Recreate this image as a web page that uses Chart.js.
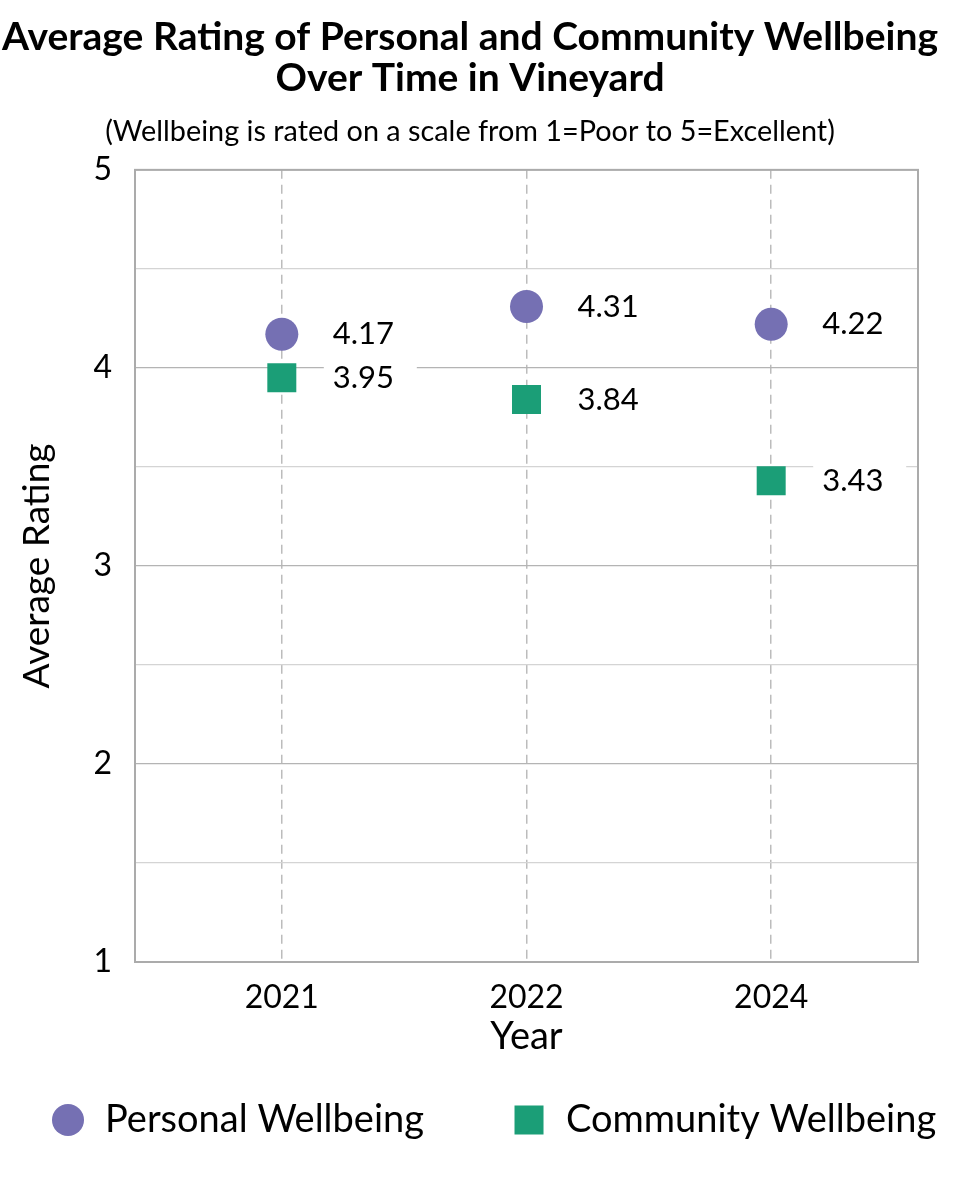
<!DOCTYPE html>
<html>
<head>
<meta charset="utf-8">
<title>Wellbeing in Vineyard</title>
<script src="https://cdn.jsdelivr.net/npm/chart.js@4/dist/chart.umd.min.js"></script>
<style>
    html, body { margin: 0; padding: 0; background: #fff; }
    #wrap { width: 960px; height: 1200px; }
</style>
</head>
<body>
<div id="wrap"><canvas id="wellbeingChart" width="960" height="1200"></canvas></div>
<script>
// data
const years = ['2021', '2022', '2024'];
const personalWellbeing = [4.17, 4.31, 4.22];
const communityWellbeing = [3.95, 3.84, 3.43];
const yMajorTicks = [1, 2, 3, 4, 5];
const yMinorTicks = [1.5, 2.5, 3.5, 4.5];

const purple = '#7570b3';
const green = '#1b9e77';
const FONT = 'Lato, "Open Sans", sans-serif';

// grey frame round the plot area
const plotFrame = {
    id: 'plotFrame',
    beforeDatasetsDraw(chart) {
        const { ctx, chartArea: a } = chart;
        ctx.save();
        ctx.strokeStyle = '#ababab';
        ctx.lineWidth = 2;
        ctx.strokeRect(a.left, a.top, a.right - a.left, a.bottom - a.top);
        ctx.restore();
    }
};

// value labels to the right of each point, on a white box
const valueLabels = {
    id: 'valueLabels',
    afterDatasetsDraw(chart) {
        const ctx = chart.ctx;
        ctx.save();
        ctx.font = '31px ' + FONT;
        ctx.textBaseline = 'middle';
        ctx.textAlign = 'left';
        chart.data.datasets.forEach((ds, di) => {
            chart.getDatasetMeta(di).data.forEach((pt, i) => {
                ctx.fillStyle = '#fff';
                ctx.fillRect(pt.x + 42, pt.y - 19, 93, 38);
                ctx.fillStyle = '#000';
                ctx.fillText(ds.data[i].y.toFixed(2), pt.x + 51, pt.y);
            });
        });
        ctx.restore();
    }
};

// legend row under the axis title (the built-in legend wraps at this spacing)
const bottomLegend = {
    id: 'bottomLegend',
    afterDraw(chart) {
        const ctx = chart.ctx;
        const y = 1120;
        const gap = 89;
        let x = 52;
        ctx.save();
        ctx.font = '38px ' + FONT;
        ctx.textBaseline = 'middle';
        ctx.textAlign = 'left';
        chart.data.datasets.forEach((ds) => {
            ctx.fillStyle = ds.backgroundColor;
            if (ds.pointStyle === 'circle') {
                ctx.beginPath();
                ctx.arc(x + 16, y, 16, 0, Math.PI * 2);
                ctx.fill();
            } else {
                ctx.fillRect(x + 1.5, y - 14.5, 29, 29);
            }
            ctx.fillStyle = '#000';
            ctx.fillText(ds.label, x + 53, y);
            x += 53 + ctx.measureText(ds.label).width + gap;
        });
        ctx.restore();
    }
};

Chart.defaults.font.family = FONT;
Chart.defaults.color = '#000';

const ctx = document.getElementById('wellbeingChart').getContext('2d');
new Chart(ctx, {
    type: 'scatter',
    data: {
        datasets: [
            {
                label: 'Personal Wellbeing',
                data: years.map((y, i) => ({ x: i, y: personalWellbeing[i] })),
                pointStyle: 'circle',
                pointRadius: 16.5,
                pointHoverRadius: 16.5,
                backgroundColor: purple,
                borderColor: purple,
                borderWidth: 0
            },
            {
                label: 'Community Wellbeing',
                data: years.map((y, i) => ({ x: i, y: communityWellbeing[i] })),
                pointStyle: 'rect',
                pointRadius: 20.5,
                pointHoverRadius: 20.5,
                backgroundColor: green,
                borderColor: green,
                borderWidth: 0
            }
        ]
    },
    options: {
        responsive: false,
        animation: false,
        devicePixelRatio: 1,
        // right padding kept small so the title centres like the original; the spacer axis does the rest
        layout: { padding: { left: 0, right: 20, top: 0, bottom: 143 } },
        plugins: {
            title: {
                display: true,
                text: ['Average Rating of Personal and Community Wellbeing', 'Over Time in Vineyard'],
                font: { size: 39, weight: 'bold', lineHeight: 1.05 },
                color: '#000',
                padding: { top: 16.5, bottom: 0 }
            },
            subtitle: {
                display: true,
                text: '(Wellbeing is rated on a scale from 1=Poor to 5=Excellent)',
                font: { size: 28.8, lineHeight: 1.2 },
                color: '#000',
                padding: { top: 16.2, bottom: 20.7 }
            },
            legend: { display: false },
            tooltip: { enabled: false }
        },
        scales: {
            x: {
                type: 'linear',
                min: -0.6,
                max: 2.6,
                afterBuildTicks: (scale) => { scale.ticks = years.map((y, i) => ({ value: i })); },
                afterFit: (scale) => { scale.height = 95; },
                ticks: {
                    autoSkip: false,
                    padding: 16,
                    font: { size: 32 },
                    color: '#000',
                    callback: (v) => years[v] ?? ''
                },
                grid: { color: '#bcbcbc', lineWidth: 1.5, drawTicks: false },
                border: { display: false, dash: [9, 6] },
                title: {
                    display: true,
                    text: 'Year',
                    font: { size: 38, lineHeight: 1.0 },
                    color: '#000',
                    padding: { top: 0, bottom: 1 }
                }
            },
            y: {
                min: 1,
                max: 5,
                afterBuildTicks: (scale) => {
                    scale.ticks = yMajorTicks.concat(yMinorTicks).sort((a, b) => a - b).map(v => ({ value: v }));
                },
                afterFit: (scale) => { scale.width = 135; },
                ticks: {
                    autoSkip: false,
                    padding: 23,
                    font: { size: 32 },
                    color: '#000',
                    callback: (v) => yMajorTicks.includes(v) ? String(v) : ''
                },
                grid: {
                    drawTicks: false,
                    lineWidth: 1.2,
                    color: (c) => yMajorTicks.includes(c.tick.value) ? '#b4b4b4' : '#d4d4d4'
                },
                border: { display: false },
                title: {
                    display: true,
                    text: 'Average Rating',
                    font: { size: 37, lineHeight: 1.0 },
                    color: '#000',
                    padding: { top: 18.5, bottom: 0 }
                }
            },
            // empty right-hand axis, only there to leave a margin right of the plot
            spacer: {
                type: 'linear',
                position: 'right',
                min: 1,
                max: 5,
                ticks: { display: false },
                grid: { display: false },
                border: { display: false },
                afterFit: (scale) => { scale.width = 22; }
            }
        }
    },
    plugins: [plotFrame, valueLabels, bottomLegend]
});
</script>
</body>
</html>
